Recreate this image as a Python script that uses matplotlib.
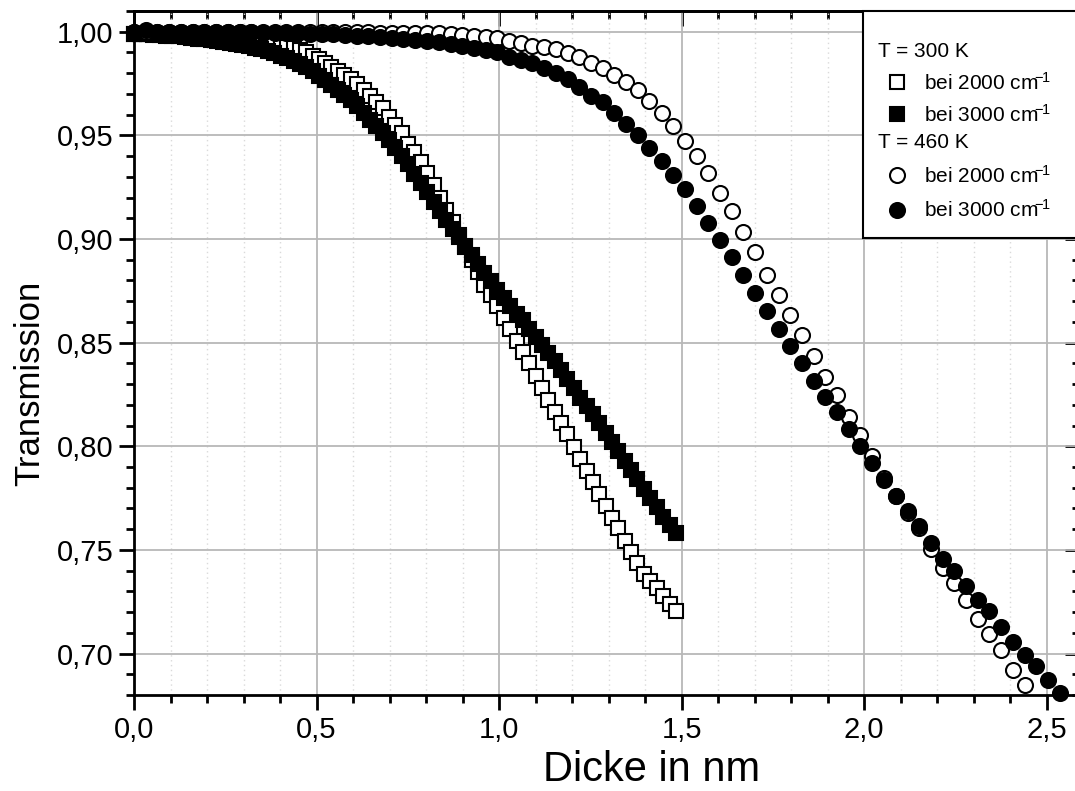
import matplotlib
matplotlib.use("Agg")
import matplotlib.pyplot as plt
from matplotlib.lines import Line2D
from matplotlib.patches import Rectangle
from matplotlib.ticker import MultipleLocator, FuncFormatter

plt.rcParams['font.family'] = ['Liberation Sans', 'DejaVu Sans']
plt.rcParams['mathtext.fontset'] = 'custom'
plt.rcParams['mathtext.rm'] = 'Liberation Sans'
plt.rcParams['mathtext.it'] = 'Liberation Sans:italic'
plt.rcParams['mathtext.bf'] = 'Liberation Sans:bold'

# ---------------- data ----------------
# 300 K series (squares), thickness in nm
x_square = [0.000, 0.017, 0.035, 0.052, 0.070, 0.087, 0.105, 0.122, 0.140, 0.157,
            0.175, 0.192, 0.210, 0.227, 0.244, 0.262, 0.279, 0.297, 0.314, 0.332,
            0.349, 0.367, 0.384, 0.402, 0.419, 0.437, 0.454, 0.471, 0.489, 0.506,
            0.524, 0.541, 0.559, 0.576, 0.594, 0.611, 0.629, 0.646, 0.663, 0.681,
            0.698, 0.716, 0.733, 0.751, 0.768, 0.786, 0.803, 0.821, 0.838, 0.856,
            0.873, 0.890, 0.908, 0.925, 0.943, 0.960, 0.978, 0.995, 1.013, 1.030,
            1.048, 1.065, 1.083, 1.100, 1.117, 1.135, 1.152, 1.170, 1.187, 1.205,
            1.222, 1.240, 1.257, 1.275, 1.292, 1.310, 1.327, 1.344, 1.362, 1.379,
            1.397, 1.414, 1.432, 1.449, 1.467, 1.484]

t300_2000 = [0.999, 0.999, 0.999, 0.999, 0.999, 0.999, 0.999, 0.9985, 0.9985, 0.998,
             0.998, 0.998, 0.998, 0.9975, 0.997, 0.997, 0.9965, 0.996, 0.9955, 0.995,
             0.9945, 0.994, 0.9935, 0.993, 0.9925, 0.992, 0.991, 0.990, 0.9885, 0.987,
             0.985, 0.983, 0.981, 0.979, 0.977, 0.975, 0.972, 0.969, 0.966, 0.963,
             0.959, 0.955, 0.951, 0.946, 0.942, 0.937, 0.932, 0.926, 0.920, 0.914,
             0.908, 0.902, 0.896, 0.890, 0.884, 0.878, 0.873, 0.8675, 0.862, 0.8565,
             0.851, 0.8455, 0.840, 0.834, 0.828, 0.8225, 0.8165, 0.811, 0.8057, 0.7995,
             0.794, 0.788, 0.7828, 0.777, 0.7713, 0.7655, 0.7605, 0.7541, 0.749, 0.7437,
             0.7385, 0.735, 0.7316, 0.7278, 0.724, 0.7204]

t300_3000 = [0.999, 0.999, 0.9988, 0.9985, 0.9983, 0.998, 0.998, 0.9977, 0.9973, 0.997,
             0.9967, 0.9963, 0.996, 0.9955, 0.995, 0.9945, 0.994, 0.9935, 0.993, 0.9922,
             0.9915, 0.9905, 0.9895, 0.9885, 0.9872, 0.986, 0.9845, 0.9828, 0.981, 0.9785,
             0.9765, 0.9745, 0.972, 0.9695, 0.967, 0.964, 0.961, 0.9575, 0.9545, 0.951,
             0.948, 0.944, 0.940, 0.936, 0.9315, 0.927, 0.9225, 0.918, 0.9135, 0.909,
             0.905, 0.9008, 0.8965, 0.8922, 0.888, 0.8838, 0.8795, 0.8755, 0.8715, 0.8675,
             0.8637, 0.8607, 0.8565, 0.8525, 0.849, 0.845, 0.841, 0.8368, 0.8325, 0.828,
             0.8235, 0.8195, 0.8155, 0.811, 0.8065, 0.802, 0.7975, 0.793, 0.7885, 0.784,
             0.7795, 0.775, 0.7705, 0.766, 0.762, 0.7582]

# 460 K series (circles)
x_circle = [0.000, 0.032, 0.064, 0.096, 0.128, 0.161, 0.193, 0.225, 0.257, 0.289,
            0.321, 0.353, 0.385, 0.417, 0.449, 0.482, 0.514, 0.546, 0.578, 0.610,
            0.642, 0.674, 0.706, 0.738, 0.770, 0.803, 0.835, 0.867, 0.899, 0.931,
            0.963, 0.995, 1.027, 1.059, 1.091, 1.124, 1.156, 1.188, 1.220, 1.252,
            1.284, 1.316, 1.348, 1.380, 1.412, 1.445, 1.477, 1.509, 1.541, 1.573,
            1.605, 1.637, 1.669, 1.701, 1.733, 1.766, 1.798, 1.830, 1.862, 1.894,
            1.926, 1.958, 1.990, 2.022, 2.054, 2.087, 2.119, 2.151, 2.183, 2.215,
            2.247, 2.279, 2.311, 2.343, 2.375, 2.408, 2.440, 2.472, 2.504, 2.536]

t460_2000 = [1.000, 1.000, 1.000, 1.000, 1.000, 1.000, 1.000, 1.000, 1.000, 1.000,
             1.000, 1.000, 1.000, 1.000, 1.000, 1.000, 1.000, 1.000, 1.000, 1.000,
             1.000, 0.9995, 0.9995, 0.9995, 0.9995, 0.9995, 0.9995, 0.999, 0.9985, 0.998,
             0.9975, 0.997, 0.9955, 0.9945, 0.993, 0.9925, 0.9915, 0.9897, 0.988, 0.985,
             0.9825, 0.979, 0.9758, 0.972, 0.9664, 0.9608, 0.9547, 0.9471, 0.9399, 0.9318,
             0.9222, 0.9133, 0.9032, 0.8936, 0.8828, 0.8731, 0.8635, 0.8539, 0.8434, 0.8335,
             0.8245, 0.8142, 0.8056, 0.7955, 0.7847, 0.7759, 0.7679, 0.7606, 0.7502, 0.7413,
             0.734, 0.7257, 0.7167, 0.7096, 0.7016, 0.6923, 0.685]

t460_3000 = [1.000, 1.001, 1.000, 1.000, 1.000, 1.000, 1.000, 1.000, 1.000, 1.000,
             1.000, 0.9995, 0.9995, 0.9995, 0.9995, 0.999, 0.999, 0.999, 0.9985, 0.998,
             0.998, 0.9975, 0.997, 0.9965, 0.996, 0.9955, 0.995, 0.994, 0.993, 0.992,
             0.991, 0.990, 0.988, 0.9865, 0.985, 0.9825, 0.980, 0.977, 0.9735, 0.969,
             0.966, 0.961, 0.9555, 0.950, 0.944, 0.9375, 0.931, 0.924, 0.9157, 0.9077,
             0.8995, 0.8915, 0.8825, 0.874, 0.8652, 0.8566, 0.8482, 0.840, 0.8315, 0.8238,
             0.8164, 0.8085, 0.8003, 0.792, 0.7836, 0.7759, 0.7686, 0.7614, 0.7534, 0.7455,
             0.7397, 0.7328, 0.7257, 0.7204, 0.7129, 0.7054, 0.6995, 0.6939, 0.6871, 0.681]

label_2000 = 'bei 2000 cm$^{\\!\\!\\!-\\!\\!1}$'
label_3000 = 'bei 3000 cm$^{\\!\\!\\!-\\!\\!1}$'
header_300 = 'T = 300 K'
header_460 = 'T = 460 K'
x_label = 'Dicke in nm'
y_label = 'Transmission'

# ---------------- figure ----------------
W, H = 1075, 791
fig = plt.figure(figsize=(W / 100, H / 100), dpi=100)
ax_left, ax_right, ax_top, ax_bottom = 134, 1079.5, 11, 695
ax = fig.add_axes([ax_left / W, 1 - ax_bottom / H, (ax_right - ax_left) / W, (ax_bottom - ax_top) / H])

ax.set_xlim(0, 2.59)
ax.set_ylim(0.680, 1.010)

SQ, CI, EW = 10.3, 10.8, 1.5
mk = dict(ls='none', mec='black', mew=EW, clip_on=False, zorder=3)
ax.plot(x_square, t300_2000, marker='s', ms=SQ, mfc='white', **mk)
ax.plot(x_square, t300_3000, marker='s', ms=SQ, mfc='black', **mk)
ax.plot(x_circle[:len(t460_2000)], t460_2000, marker='o', ms=CI, mfc='white', **mk)
ax.plot(x_circle, t460_3000, marker='o', ms=CI, mfc='black', **mk)

# ticks / grid
ax.xaxis.set_major_locator(MultipleLocator(0.5))
ax.xaxis.set_minor_locator(MultipleLocator(0.1))
ax.yaxis.set_major_locator(MultipleLocator(0.05))
ax.yaxis.set_minor_locator(MultipleLocator(0.01))
ax.xaxis.set_major_formatter(FuncFormatter(lambda v, p: f'{v:.1f}'.replace('.', ',')))
ax.yaxis.set_major_formatter(FuncFormatter(lambda v, p: f'{v:.2f}'.replace('.', ',')))
ax.tick_params(which='major', direction='out', length=11, width=2, labelsize=21, pad=4, colors='black')
ax.tick_params(which='minor', direction='out', length=6, width=2)
ax.grid(which='major', color='#b8b8b8', lw=1.3, zorder=0)
ax.grid(which='minor', axis='x', color='#dadada', lw=1.0, ls=(0, (1, 2.5)), zorder=0)
ax.set_axisbelow(True)
for s in ax.spines.values():
    s.set_linewidth(2.0)

sec_x = ax.secondary_xaxis('top')
sec_x.xaxis.set_major_locator(MultipleLocator(0.5))
sec_x.xaxis.set_minor_locator(MultipleLocator(0.1))
sec_x.tick_params(which='major', direction='in', length=11, width=2, labeltop=False)
sec_x.tick_params(which='minor', direction='in', length=6, width=2)
sec_x.spines['top'].set_linewidth(2.0)
sec_y = ax.secondary_yaxis('right')
sec_y.yaxis.set_major_locator(MultipleLocator(0.05))
sec_y.yaxis.set_minor_locator(MultipleLocator(0.01))
sec_y.tick_params(which='major', direction='in', length=11, width=2, labelright=False)
sec_y.tick_params(which='minor', direction='in', length=6, width=2)

ax.set_xlabel(x_label, fontsize=30)
ax.xaxis.label.set_verticalalignment('baseline')
ax.xaxis.set_label_coords((652 - ax_left) / (ax_right - ax_left), -(781 - ax_bottom) / (ax_bottom - ax_top))
ax.set_ylabel(y_label, fontsize=25)
ax.yaxis.set_label_coords(-(ax_left - 46) / (ax_right - ax_left), (695 - 383) / (ax_bottom - ax_top))

# ---------------- legend ----------------
box_l, box_t, box_b = 863, 11, 238
rect = Rectangle((box_l / W, 1 - box_b / H), (W + 10 - box_l) / W, (box_b - box_t) / H,
                 transform=fig.transFigure, facecolor='white', edgecolor='black', lw=1.5,
                 zorder=4, clip_on=False)
ax.add_patch(rect)

h_s2 = Line2D([], [], ls='none', marker='s', ms=SQ, mfc='white', mec='black', mew=EW)
h_s3 = Line2D([], [], ls='none', marker='s', ms=SQ, mfc='black', mec='black', mew=EW)
h_c2 = Line2D([], [], ls='none', marker='o', ms=CI, mfc='white', mec='black', mew=EW)
h_c3 = Line2D([], [], ls='none', marker='o', ms=CI, mfc='black', mec='black', mew=EW)

leg_kw = dict(loc='upper left', bbox_transform=fig.transFigure, frameon=False, alignment='left',
              fontsize=15, title_fontsize=15, handlelength=1.85, handletextpad=0.35,
              borderpad=0, borderaxespad=0)
leg1 = ax.legend([h_s2, h_s3], [label_2000, label_3000], title=header_300,
                 bbox_to_anchor=(878 / W, 1 - 42 / H), labelspacing=0.5, **leg_kw)
leg1.set_zorder(6)
ax.add_artist(leg1)
leg2 = ax.legend([h_c2, h_c3], [label_2000, label_3000], title=header_460,
                 bbox_to_anchor=(878 / W, 1 - 133 / H), labelspacing=0.6, **leg_kw)
leg2.set_zorder(6)

fig.savefig('out.png', dpi=100)
